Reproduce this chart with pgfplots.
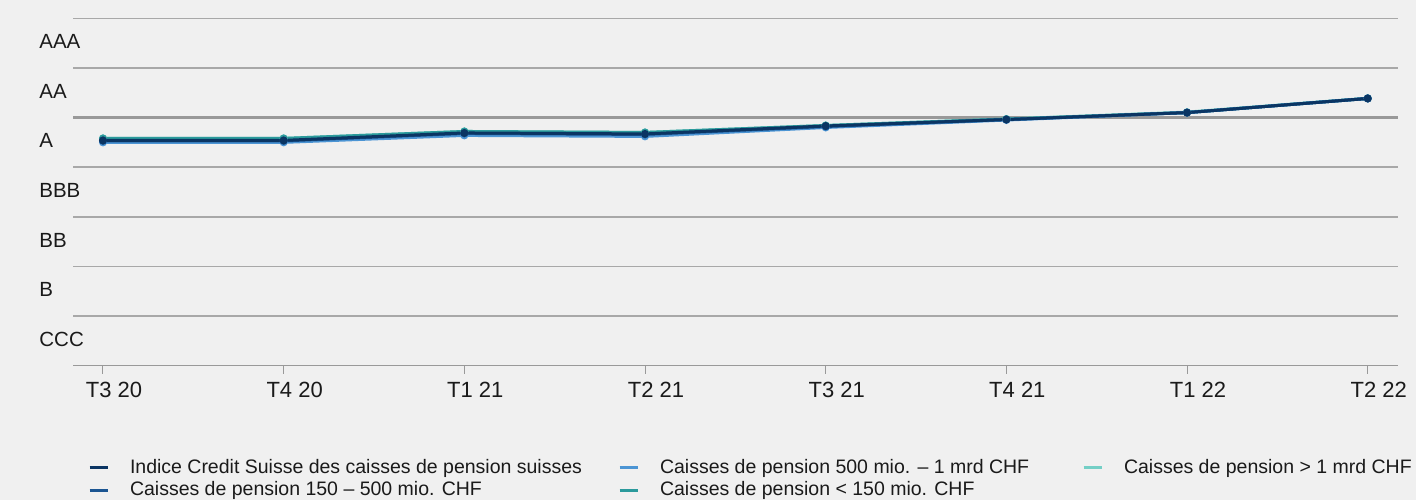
\documentclass[border=0pt]{standalone}
\usepackage{fontspec}
\setmainfont{Liberation Sans}
\usepackage{pgfplots}
\pgfplotsset{compat=1.18}
\definecolor{bg}{HTML}{F0F0F0}
\definecolor{gridc}{HTML}{A8A8A8}
\definecolor{darkgrid}{HTML}{999999}
\definecolor{txt}{HTML}{1A1A1A}
\definecolor{cindex}{HTML}{0B3563}
\definecolor{cmid}{HTML}{1B5592}
\definecolor{clight}{HTML}{4C95D4}
\definecolor{cteal}{HTML}{2B9A9C}
\definecolor{clteal}{HTML}{74CFC6}
\begin{document}
\begin{tikzpicture}
\fill[bg] (0,0) rectangle (708bp,250bp);
\begin{axis}[
  at={(36.5bp,67.15bp)}, anchor=south west,
  width=662.35bp, height=173.7bp, scale only axis,
  xmin=-0.166, xmax=7.166, ymin=0, ymax=7,
  xtick={0,...,7},
  xticklabels={T3 20,T4 20,T1 21,T2 21,T3 21,T4 21,T1 22,T2 22},
  ytick={0.5,1.5,2.5,3.5,4.5,5.5,6.5},
  yticklabels={CCC,B,BB,BBB,A,AA,AAA},
  minor ytick={1,2,3,4,6,7}, yminorgrids,
  minor grid style={draw=gridc, line width=0.75bp},
  extra y ticks={5}, extra y tick labels={},
  extra y tick style={grid=major, major grid style={draw=darkgrid, line width=1.25bp}},
  axis x line*=bottom, axis y line*=left,
  x axis line style={draw=darkgrid, line width=0.5bp, -},
  y axis line style={draw=none},
  tick align=outside, major tick length=4bp, minor tick length=0pt,
  xtick style={draw=darkgrid, line width=0.5bp},
  ytick style={draw=none},
  xticklabel style={anchor=north, inner sep=0pt, yshift=-4bp, xshift=5.5bp,
    font=\fontsize{11bp}{12bp}\selectfont, text=txt},
  yticklabel style={anchor=west, inner sep=0pt, xshift=-13bp, yshift=0.75bp,
    font=\fontsize{10.25bp}{12bp}\selectfont, text=txt},
  legend style={at={(axis description cs:0.01132,-0.2686)}, anchor=north west,
    draw=none, fill=none, inner sep=0pt, outer sep=0pt,
    font=\fontsize{9.75bp}{11.7bp}\selectfont, text=txt,
    /tikz/column sep=0pt, /tikz/row sep=2.75bp, nodes={inner sep=0pt}},
  legend columns=3, legend cell align=left,
  legend image code/.code={\draw[#1, line width=1.5bp] (0bp,0bp) -- (9bp,0bp);},
]
\addlegendimage{cindex}
\addlegendentry{\hspace{10.5bp}\makebox[244bp][l]{Indice Credit Suisse des caisses de pension suisses}}
\addlegendimage{clight}
\addlegendentry{\hspace{10.5bp}\makebox[211bp][l]{Caisses de pension 500 mio. – 1 mrd CHF}}
\addlegendimage{clteal}
\addlegendentry{\hspace{10.5bp}Caisses de pension > 1 mrd CHF}
\addlegendimage{cmid}
\addlegendentry{\hspace{10.5bp}\makebox[244bp][l]{Caisses de pension 150 – 500 mio. CHF}}
\addlegendimage{cteal}
\addlegendentry{\hspace{10.5bp}\makebox[211bp][l]{Caisses de pension < 150 mio. CHF}}

\addplot[clteal, line width=1.5bp, mark=*, mark size=1.2bp, forget plot] coordinates {
(0,4.58) (1,4.58) (2,4.72) (3,4.70) (4,4.84) (5,4.97) (6,5.11) (7,5.39)};
\addplot[cteal, line width=1.5bp, mark=*, mark size=1.2bp, forget plot] coordinates {
(0,4.58) (1,4.58) (2,4.72) (3,4.70) (4,4.84) (5,4.97) (6,5.10) (7,5.385)};
\addplot[clight, line width=1.5bp, mark=*, mark size=1.2bp, forget plot] coordinates {
(0,4.50) (1,4.50) (2,4.64) (3,4.62) (4,4.80) (5,4.95) (6,5.10) (7,5.385)};
\addplot[cmid, line width=1.5bp, mark=*, mark size=1.2bp, forget plot] coordinates {
(0,4.53) (1,4.53) (2,4.68) (3,4.66) (4,4.82) (5,4.96) (6,5.10) (7,5.385)};
\addplot[cindex, line width=1.5bp, mark=*, mark size=1.2bp, forget plot] coordinates {
(0,4.54) (1,4.54) (2,4.69) (3,4.67) (4,4.83) (5,4.96) (6,5.10) (7,5.385)};
\end{axis}
\end{tikzpicture}
\end{document}
